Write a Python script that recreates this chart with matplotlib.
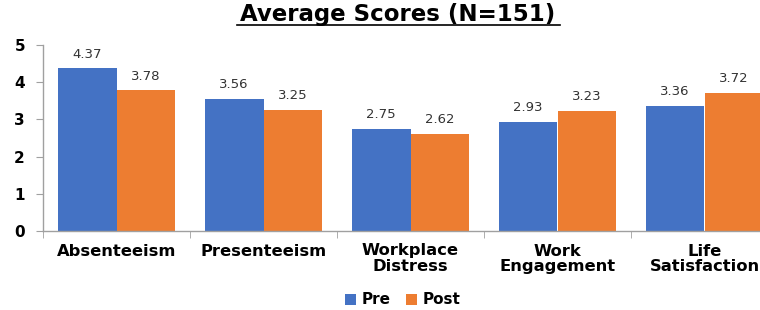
import numpy as np
import matplotlib
matplotlib.use("Agg")
import matplotlib.pyplot as plt

categories = ["Absenteeism", "Presenteeism", "Workplace\nDistress", "Work\nEngagement", "Life\nSatisfaction"]
pre = [4.37, 3.56, 2.75, 2.93, 3.36]
post = [3.78, 3.25, 2.62, 3.23, 3.72]
yticks = [0, 1, 2, 3, 4, 5]

plt.rcParams['font.family'] = ['DejaVu Sans']

fig = plt.figure(figsize=(7.6, 3.1), dpi=100)
ax = fig.add_axes([43/760, 79/310, 735/760, 186/310])

x = np.arange(len(categories))
w = 0.4
blue = "#4472C4"
orange = "#ED7D31"
b1 = ax.bar(x - w/2, pre, w, color=blue, label="Pre")
b2 = ax.bar(x + w/2, post, w, color=orange, label="Post")

for bars, vals in ((b1, pre), (b2, post)):
    for r, v in zip(bars, vals):
        ax.annotate(f"{v:.2f}", (r.get_x() + r.get_width()/2, v), xytext=(0, 5.5),
                    textcoords="offset points", ha="center", va="bottom",
                    fontsize=9.5, color="#333333")

ax.set_xlim(-0.5, len(categories) - 0.5)
ax.set_ylim(0, 5)
ax.set_yticks(yticks)
ax.set_yticklabels([str(t) for t in yticks], fontsize=11, fontweight="bold")
ax.set_xticks(x)
ax.set_xticklabels(categories, fontsize=11.8, fontweight="bold", linespacing=1.05)
ax.set_xticks(np.arange(-0.5, len(categories), 1), minor=True)
ax.tick_params(axis="x", which="major", length=0, pad=9)
ax.tick_params(axis="x", which="minor", length=5, color="#A0A0A0")
ax.tick_params(axis="y", length=5, color="#A0A0A0", pad=8)

for s in ("top", "right"):
    ax.spines[s].set_visible(False)
for s in ("left", "bottom"):
    ax.spines[s].set_color("#A0A0A0")
    ax.spines[s].set_linewidth(1)

fig.text(398/760, 1 - 15/310, "Average Scores (N=151)", ha="center", va="center",
         fontsize=16.5, fontweight="bold")
# underline
fig.add_artist(plt.Line2D([237/760, 560/760], [1 - 25/310, 1 - 25/310], color="black", lw=1.2))

leg = fig.legend(handles=[b1, b2], labels=["Pre", "Post"], loc="center",
                 bbox_to_anchor=(403/760, 1 - 300/310), ncol=2, frameon=False,
                 handlelength=0.7, handleheight=0.7, handletextpad=0.4,
                 columnspacing=1.0, prop={"weight": "bold", "size": 11})

fig.savefig("out.png", dpi=100)
